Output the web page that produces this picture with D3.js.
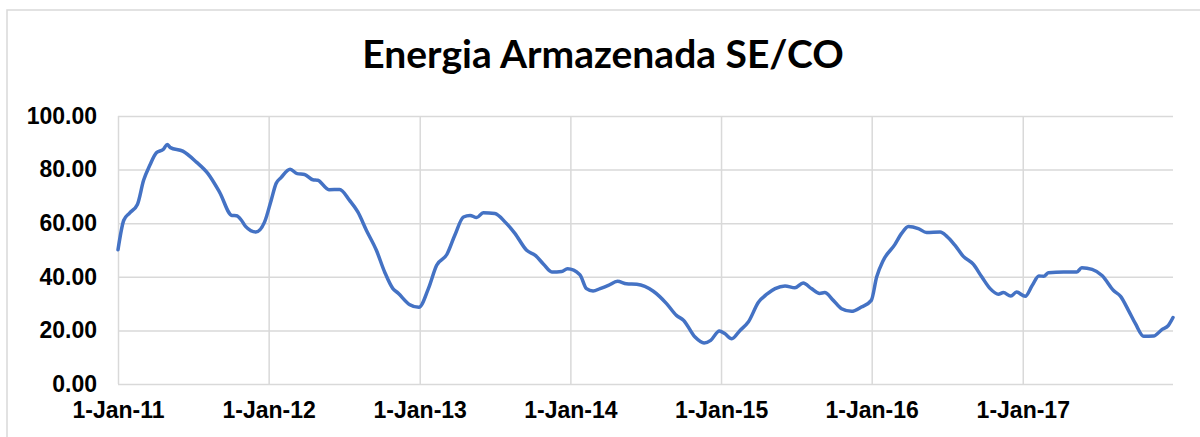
<!DOCTYPE html>
<html lang="pt">
<head>
<meta charset="UTF-8">
<title>Energia Armazenada SE/CO</title>
<script src="https://cdn.jsdelivr.net/npm/d3@7"></script>
<style>
    html, body { margin: 0; padding: 0; background: #fff; }
    svg { display: block; }
</style>
</head>
<body>
<div id="chart"></div>
<script>
    // dados (% energia armazenada)
    const dates = [
        "2011-01-01", "2011-01-15", "2011-01-29", "2011-02-17", "2011-03-04", "2011-03-19", "2011-04-04", "2011-04-21",
        "2011-04-30", "2011-05-08", "2011-06-07", "2011-07-10", "2011-08-07", "2011-09-04", "2011-10-04", "2011-10-15",
        "2011-10-27", "2011-11-06", "2011-12-01", "2011-12-22", "2012-01-07", "2012-01-19", "2012-01-31", "2012-02-22",
        "2012-03-10", "2012-03-28", "2012-04-17", "2012-04-29", "2012-05-26", "2012-06-21", "2012-07-15", "2012-08-04",
        "2012-08-25", "2012-09-18", "2012-10-08", "2012-10-28", "2012-11-09", "2012-12-08", "2012-12-30", "2013-01-22",
        "2013-02-11", "2013-03-08", "2013-03-27", "2013-04-17", "2013-05-03", "2013-05-19", "2013-06-04", "2013-07-02",
        "2013-07-27", "2013-08-20", "2013-09-17", "2013-10-08", "2013-10-28", "2013-11-17", "2013-12-11", "2013-12-25",
        "2014-01-24", "2014-02-09", "2014-02-25", "2014-03-14", "2014-04-03", "2014-04-25", "2014-05-17", "2014-06-11",
        "2014-07-21", "2014-08-22", "2014-09-15", "2014-10-02", "2014-10-30", "2014-11-21", "2014-12-07", "2014-12-28",
        "2015-01-10", "2015-01-27", "2015-02-16", "2015-03-08", "2015-04-02", "2015-04-22", "2015-05-12", "2015-06-05",
        "2015-06-29", "2015-07-19", "2015-08-08", "2015-08-28", "2015-09-09", "2015-09-30", "2015-10-20", "2015-11-13",
        "2015-12-07", "2015-12-31", "2016-01-13", "2016-01-29", "2016-02-26", "2016-03-13", "2016-03-30", "2016-04-23",
        "2016-05-13", "2016-06-15", "2016-07-01", "2016-07-21", "2016-08-10", "2016-09-03", "2016-09-24", "2016-10-14",
        "2016-11-03", "2016-11-15", "2016-12-03", "2016-12-17", "2017-01-07", "2017-01-24", "2017-02-09", "2017-02-21",
        "2017-03-04", "2017-04-10", "2017-05-12", "2017-05-24", "2017-06-18", "2017-07-12", "2017-08-09", "2017-08-26",
        "2017-09-14", "2017-10-01", "2017-10-21", "2017-11-14", "2017-12-04", "2017-12-20", "2017-12-31"
    ];
    const values = [
        50.1, 61.1, 63.8, 67.0, 76.0, 81.6, 86.3, 87.6,
        89.4, 88.2, 86.9, 82.8, 78.5, 71.6, 62.9, 62.8,
        61.1, 58.8, 56.7, 60.4, 68.5, 74.8, 77.0, 80.1,
        78.5, 78.2, 76.2, 76.0, 72.5, 72.6, 68.5, 64.2,
        57.3, 49.9, 41.8, 35.6, 34.0, 29.6, 28.6, 35.6,
        44.3, 48.4, 55.5, 62.3, 62.9, 62.1, 63.9, 63.6,
        60.4, 56.1, 49.9, 48.0, 44.7, 41.8, 42.0, 43.0,
        40.8, 35.6, 34.7, 35.6, 36.8, 38.3, 37.4, 37.2,
        34.6, 30.0, 25.6, 23.8, 17.5, 15.3, 16.3, 19.8,
        18.8, 16.9, 20.0, 23.1, 30.6, 33.5, 35.6, 36.6,
        35.9, 37.7, 35.6, 33.8, 34.1, 31.2, 28.1, 27.1,
        28.7, 31.2, 39.9, 46.1, 52.0, 56.1, 58.8, 58.0,
        56.5, 56.7, 55.1, 51.7, 47.6, 44.7, 39.9, 35.6,
        33.5, 34.1, 32.8, 34.3, 32.7, 36.8, 40.3, 40.2,
        41.5, 41.8, 41.8, 43.4, 42.8, 40.5, 34.9, 32.7,
        27.5, 22.5, 17.8, 17.9, 20.3, 21.9, 24.8
    ];
    const xTicks = ["2011-01-01", "2012-01-01", "2013-01-01", "2014-01-01", "2015-01-01", "2016-01-01", "2017-01-01"];
    const yTicks = [0, 20, 40, 60, 80, 100];

    const width = 1200, height = 437;
    const margin = { top: 116, right: 27, bottom: 53, left: 118 };
    const parse = d3.timeParse("%Y-%m-%d");

    const data = dates.map(function (d, i) {
        return { date: parse(d), value: values[i] };
    });

    const svg = d3.select("#chart")
        .append("svg")
        .attr("width", width)
        .attr("height", height);

    // moldura do grafico
    svg.append("rect")
        .attr("x", 7)
        .attr("y", 10)
        .attr("width", width + 20)
        .attr("height", height + 20)
        .attr("fill", "#fff")
        .attr("stroke", "#d9d9d9")
        .attr("stroke-width", 1.5);

    const x = d3.scaleTime()
        .domain([parse(dates[0]), parse(dates[dates.length - 1])])
        .range([margin.left, width - margin.right]);
    const y = d3.scaleLinear()
        .domain([0, 100])
        .range([height - margin.bottom, margin.top]);

    // grade horizontal
    svg.append("g")
        .attr("transform", "translate(" + margin.left + ",0)")
        .call(d3.axisLeft(y)
            .tickValues(yTicks)
            .tickSize(-(width - margin.left - margin.right))
            .tickFormat(""))
        .call(function (g) {
            g.select(".domain").remove();
            g.selectAll("line").attr("stroke", "#d9d9d9").attr("stroke-width", 1.5);
        });

    // grade vertical
    svg.append("g")
        .attr("transform", "translate(0," + (height - margin.bottom) + ")")
        .call(d3.axisBottom(x)
            .tickValues(xTicks.map(parse))
            .tickSize(-(height - margin.top - margin.bottom))
            .tickFormat(""))
        .call(function (g) {
            g.select(".domain").remove();
            g.selectAll("line").attr("stroke", "#d9d9d9").attr("stroke-width", 1.5);
        });

    // rotulos eixo y
    svg.append("g")
        .attr("transform", "translate(" + (margin.left - 21) + ",0)")
        .call(d3.axisLeft(y).tickValues(yTicks).tickSize(0).tickFormat(d3.format(".2f")))
        .call(function (g) {
            g.select(".domain").remove();
            g.selectAll("text")
                .attr("font-family", "'Liberation Sans', Arial, sans-serif")
                .attr("font-weight", "bold")
                .attr("font-size", 23)
                .attr("fill", "#000")
                .attr("x", 0);
        });

    // rotulos eixo x
    svg.append("g")
        .attr("transform", "translate(0," + (height - margin.bottom) + ")")
        .call(d3.axisBottom(x).tickValues(xTicks.map(parse)).tickSize(0).tickFormat(d3.timeFormat("%-d-%b-%y")))
        .call(function (g) {
            g.select(".domain").remove();
            g.selectAll("text")
                .attr("font-family", "'Liberation Sans', Arial, sans-serif")
                .attr("font-weight", "bold")
                .attr("font-size", 23)
                .attr("fill", "#000")
                .attr("y", 18);
        });

    // linha
    const line = d3.line()
        .x(function (d) { return x(d.date); })
        .y(function (d) { return y(d.value); })
        .curve(d3.curveMonotoneX);

    svg.append("path")
        .datum(data)
        .attr("fill", "none")
        .attr("stroke", "#4472c4")
        .attr("stroke-width", 3.5)
        .attr("stroke-linejoin", "round")
        .attr("stroke-linecap", "round")
        .attr("d", line);

    // titulo
    svg.append("text")
        .attr("x", 603)
        .attr("y", 68)
        .attr("text-anchor", "middle")
        .attr("font-family", "Lato, 'Open Sans', sans-serif")
        .attr("font-weight", "bold")
        .attr("font-size", 39)
        .attr("fill", "#000")
        .text("Energia Armazenada SE/CO");
</script>
</body>
</html>
